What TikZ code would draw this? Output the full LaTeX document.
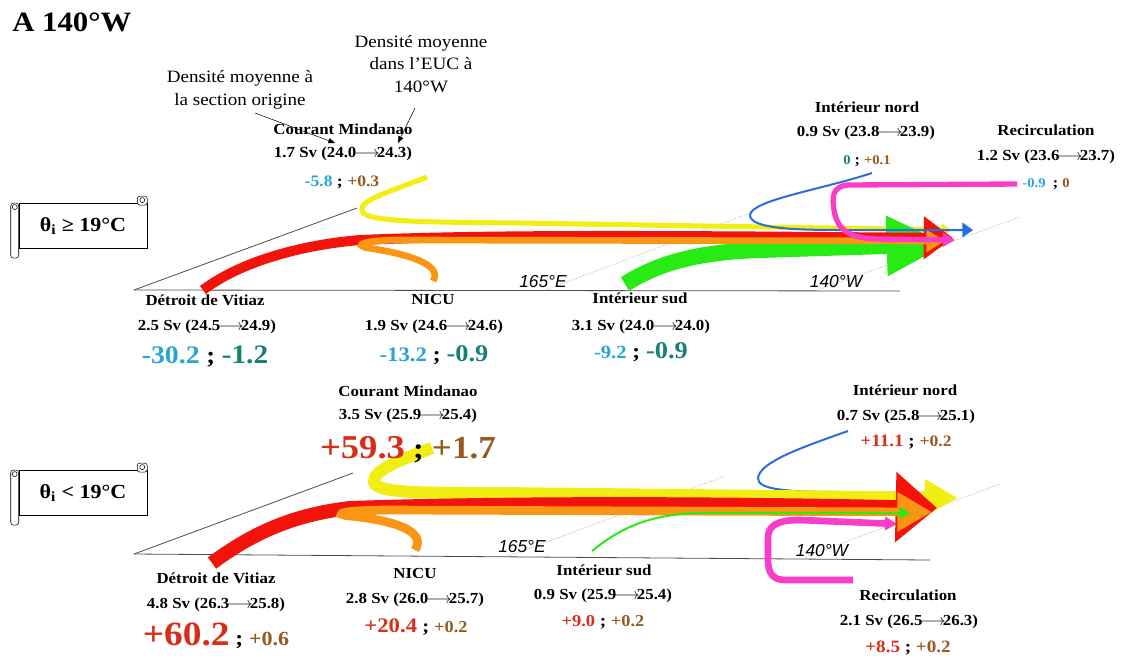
\documentclass[tikz,border=0pt]{standalone}
\usepackage{fontspec}
\setmainfont{Liberation Serif}[FakeStretch=1.1]
\newfontfamily\lonfont{Liberation Sans}
\usepackage{xcolor}
\usetikzlibrary{arrows.meta}

\definecolor{negA}{RGB}{40,165,210}
\definecolor{negB}{RGB}{25,128,118}
\definecolor{posA}{RGB}{215,45,25}
\definecolor{posB}{RGB}{150,90,30}
\definecolor{cyel}{RGB}{242,238,20}
\definecolor{cred}{RGB}{242,20,10}
\definecolor{cora}{RGB}{250,150,20}
\definecolor{cgrn}{RGB}{40,235,20}
\definecolor{cblu}{RGB}{40,110,220}
\definecolor{cpnk}{RGB}{250,60,200}

\newcommand{\vv}[3]{\textcolor{#1}{\fontsize{#2}{#2}\selectfont #3}}
\newcommand{\fl}{\ensuremath{\!\longrightarrow\!}}

\begin{document}
\begin{tikzpicture}[
    x=0.75pt, y=-0.75pt,
    lbl/.style={font=\bfseries\fontsize{11.5}{14}\selectfont, inner sep=0pt},
    val/.style={font=\bfseries, inner sep=0pt},
    dens/.style={font=\fontsize{13}{17}\selectfont, align=center, inner sep=0pt},
    lon/.style={font=\lonfont\itshape\fontsize{13}{15}\selectfont, inner sep=0pt},
    scroll/.style={draw, fill=white, minimum width=96pt, minimum height=34pt, font=\bfseries\fontsize{15}{17}\selectfont},
    annot/.style={-{Triangle[length=5pt,width=4pt]}, thin},
    axe/.style={draw=black!70, line width=0.6pt},
    dots/.style={draw=gray, densely dotted, line width=0.4pt},
]
\useasboundingbox (0,0) rectangle (1124,658);

\node[font=\bfseries\fontsize{21}{24}\selectfont, anchor=west, inner sep=0pt] (title) at (12,22) {A 140°W};

% --- Annotations densite ---
\node[dens] (densA) at (240,90) {Densité moyenne à\\la section origine};
\node[dens] (densE) at (421,64) {Densité moyenne\\dans l’EUC à\\140°W};
\coordinate (fromA) at (255,113);
\coordinate (tipA) at (335,143);
\coordinate (fromE) at (415,108);
\coordinate (tipE) at (398,143);
\draw[annot] (fromA) -- (tipA);
\draw[annot] (fromE) -- (tipE);

% =================== theta_i >= 19 C ===================
\node[scroll] (warm) at (83,226) {θ\textsubscript{i} ≥ 19°C};

% --- Perspective ---
\coordinate (o1) at (134,290);
\draw[axe] (o1) -- (357,208);
\draw[axe] (o1) -- (900,291);
\draw[dots] (543,291) -- (750,213);
\draw[dots] (815,291) -- (1020,217);
\node[lon] (e1) at (543,282) {165°E};
\node[lon] (w1) at (836,282) {140°W};

% --- Courants ---
\draw[cyel, line width=3.8pt, -{Triangle[length=8pt,width=9pt]}]
  (427,177) .. controls (395,190) and (358,200) .. (362,211)
  .. controls (366,222) and (420,222) .. (520,223) -- (952,230);
\draw[cgrn, line width=12pt, -{Triangle[length=46pt,width=42pt]}]
  (625,284) .. controls (660,262) and (700,252) .. (760,250) -- (948,244);
\draw[cred, line width=7.5pt, -{Triangle[length=22pt,width=31pt]}]
  (203,290) .. controls (240,262) and (300,245) .. (360,240)
  .. controls (500,234) and (700,236) .. (953,238);
\draw[cora, line width=5pt, -{Triangle[length=14pt,width=16pt]}]
  (433,281) .. controls (445,262) and (395,252) .. (368,248)
  .. controls (352,245) and (365,240) .. (400,240) -- (945,241);
\draw[cblu, line width=1.5pt, -{Triangle[length=8pt,width=11pt]}]
  (872,173) .. controls (820,190) and (752,200) .. (750,215)
  .. controls (750,228) and (790,230) .. (840,230) -- (973,230);
\draw[cpnk, line width=4pt, -{Triangle[length=9pt,width=10pt]}]
  (1017,184) -- (848,185) .. controls (832,186) and (832,198) .. (834,210)
  .. controls (837,230) and (850,239) .. (880,239) -- (955,240);

% --- Etiquettes ---
\node[lbl] (cm1) at (343,129) {Courant Mindanao};
\node[lbl] (cm1f) at (343,154) {1.7 Sv (24.0\fl24.3)};
\node[val] (cm1v) at (342,182) {\fontsize{12}{12}\selectfont\vv{negA}{12}{-5.8} ; \vv{posB}{12}{+0.3}};
\node[lbl] (inn1) at (867,107) {Intérieur nord};
\node[lbl] (inn1f) at (866,133) {0.9 Sv (23.8\fl23.9)};
\node[val] (inn1v) at (867,161) {\fontsize{11}{11}\selectfont\vv{negB}{10}{0} ; \vv{posB}{10}{+0.1}};
\node[lbl] (rec1) at (1046,130) {Recirculation};
\node[lbl] (rec1f) at (1046,157) {1.2 Sv (23.6\fl23.7)};
\node[val] (rec1v) at (1046,184) {\fontsize{11}{11}\selectfont\vv{negA}{10}{-0.9}\enspace; \vv{posB}{10}{0}};
\node[lbl] (dv1) at (205,300) {Détroit de Vitiaz};
\node[lbl] (dv1f) at (207,327) {2.5 Sv (24.5\fl24.9)};
\node[val] (dv1v) at (205,357) {\fontsize{18}{18}\selectfont\vv{negA}{19}{-30.2} ; \vv{negB}{20}{-1.2}};
\node[lbl] (nicu1) at (433,299) {NICU};
\node[lbl] (nicu1f) at (434,327) {1.9 Sv (24.6\fl24.6)};
\node[val] (nicu1v) at (434,355) {\fontsize{16}{16}\selectfont\vv{negA}{15.5}{-13.2} ; \vv{negB}{18}{-0.9}};
\node[lbl] (isud1) at (640,298) {Intérieur sud};
\node[lbl] (isud1f) at (641,327) {3.1 Sv (24.0\fl24.0)};
\node[val] (isud1v) at (641,352) {\fontsize{16}{16}\selectfont\vv{negA}{14}{-9.2} ; \vv{negB}{18}{-0.9}};

% =================== theta_i < 19 C ===================
\node[scroll] (cold) at (83,493) {θ\textsubscript{i} < 19°C};

% --- Perspective ---
\coordinate (o2) at (134,554);
\draw[axe] (o2) -- (353,473);
\draw[axe] (o2) -- (930,560);
\draw[dots] (503,558) -- (725,476);
\draw[dots] (805,557) -- (1000,484);
\node[lon] (e2) at (522,547) {165°E};
\node[lon] (w2) at (822,551) {140°W};

% --- Courants ---
\draw[cblu, line width=1.5pt]
  (848,431) .. controls (800,448) and (760,462) .. (758,478)
  .. controls (757,490) and (790,492) .. (840,492) -- (925,493);
\draw[cpnk, line width=5pt, -{Triangle[length=9pt,width=10pt]}]
  (853,580) -- (785,580) .. controls (772,580) and (768,572) .. (768,560) -- (768,538)
  .. controls (768,525) and (778,520) .. (800,520) -- (897,524);
\draw[cyel, line width=9pt, -{Triangle[length=25pt,width=26pt]}]
  (432,448) .. controls (400,460) and (373,470) .. (374,482)
  .. controls (376,493) and (420,493) .. (500,493) -- (958,498);
\draw[cred, line width=10.5pt, -{Triangle[length=31pt,width=51pt]}]
  (212,563) .. controls (250,535) and (290,515) .. (350,508)
  .. controls (500,503) and (700,503) .. (937,508);
\draw[cora, line width=6.5pt, -{Triangle[length=26pt,width=28pt]}]
  (415,550) .. controls (428,530) and (390,520) .. (350,516)
  .. controls (330,514) and (345,510) .. (390,510) -- (932,512);
\draw[cgrn, line width=1.5pt, -{Triangle[length=8pt,width=9pt]}]
  (592,551) .. controls (620,528) and (650,514) .. (700,513) -- (910,513);

% --- Etiquettes ---
\node[lbl] (cm2) at (408,391) {Courant Mindanao};
\node[lbl] (cm2f) at (408,416) {3.5 Sv (25.9\fl25.4)};
\node[val] (cm2v) at (408,450) {\fontsize{22}{22}\selectfont\vv{posA}{25}{+59.3} ; \vv{posB}{24}{+1.7}};
\node[lbl] (inn2) at (905,390) {Intérieur nord};
\node[lbl] (inn2f) at (906,417) {0.7 Sv (25.8\fl25.1)};
\node[val] (inn2v) at (906,442) {\fontsize{13}{13}\selectfont\vv{posA}{13}{+11.1} ; \vv{posB}{12}{+0.2}};
\node[lbl] (dv2) at (216,578) {Détroit de Vitiaz};
\node[lbl] (dv2f) at (216,605) {4.8 Sv (26.3\fl25.8)};
\node[val] (dv2v) at (216,636) {\fontsize{16}{16}\selectfont\vv{posA}{25.5}{+60.2} ; \vv{posB}{15}{+0.6}};
\node[lbl] (nicu2) at (415,573) {NICU};
\node[lbl] (nicu2f) at (415,600) {2.8 Sv (26.0\fl25.7)};
\node[val] (nicu2v) at (416,627) {\fontsize{14}{14}\selectfont\vv{posA}{15.5}{+20.4} ; \vv{posB}{12.5}{+0.2}};
\node[lbl] (isud2) at (604,570) {Intérieur sud};
\node[lbl] (isud2f) at (603,596) {0.9 Sv (25.9\fl25.4)};
\node[val] (isud2v) at (603,622) {\fontsize{13}{13}\selectfont\vv{posA}{12.5}{+9.0} ; \vv{posB}{12.5}{+0.2}};
\node[lbl] (rec2) at (908,595) {Recirculation};
\node[lbl] (rec2f) at (909,622) {2.1 Sv (26.5\fl26.3)};
\node[val] (rec2v) at (908,648) {\fontsize{13}{13}\selectfont\vv{posA}{13}{+8.5} ; \vv{posB}{13}{+0.2}};

% --- Rouleaux des cartouches ---
\foreach \sc in {warm, cold} {
  \draw[rounded corners=2pt, fill=white] (\sc.north west) ++(-8,0) rectangle ++(8,55);
  \draw[rounded corners=2pt, fill=white] (\sc.north east) ++(-10,-7) rectangle ++(10,9);
  \draw (\sc.north west) ++(-4,4) circle (2.5);
  \draw (\sc.north east) ++(-5,-3) circle (2.5);
}

\end{tikzpicture}
\end{document}
